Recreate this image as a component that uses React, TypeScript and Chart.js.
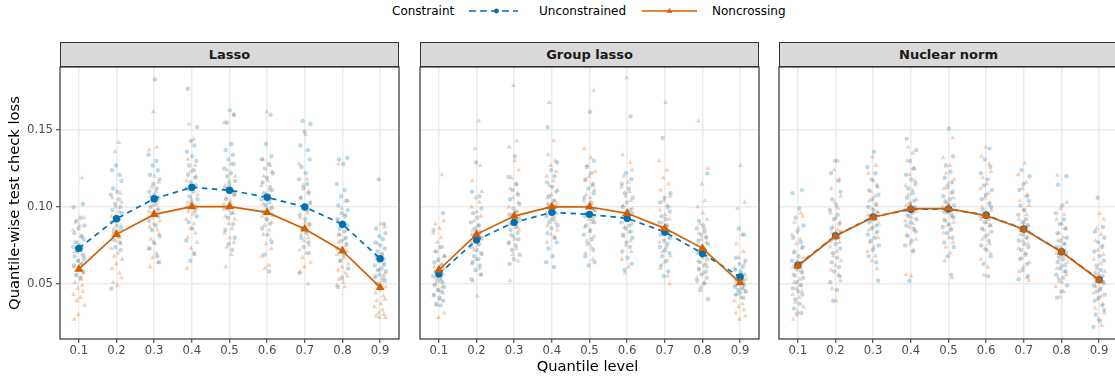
import React, { useEffect, useRef } from "react";
import { Chart, registerables } from "chart.js";

Chart.register(...registerables);

const QUANTILES = [0.1, 0.2, 0.3, 0.4, 0.5, 0.6, 0.7, 0.8, 0.9];
const Y_TICKS = [0.05, 0.1, 0.15];
const PANEL_TITLES = ["Lasso", "Group lasso", "Nuclear norm"];
const SERIES_NAMES = ["Unconstrained", "Noncrossing"];

// mean curves
const lassoUncMean = [0.0731, 0.0924, 0.1054, 0.1128, 0.1109, 0.1063, 0.1, 0.0887, 0.0664];
const lassoNcMean = [0.0596, 0.0822, 0.0952, 0.1002, 0.1002, 0.0965, 0.0857, 0.0714, 0.0477];
const groupUncMean = [0.0564, 0.0785, 0.09, 0.0965, 0.0952, 0.0926, 0.0837, 0.0698, 0.0544];
const groupNcMean = [0.059, 0.0822, 0.0941, 0.1002, 0.1, 0.0959, 0.0861, 0.0731, 0.0507];
const nuclearUncMean = [0.0622, 0.0813, 0.0936, 0.0985, 0.0987, 0.0946, 0.0857, 0.0709, 0.0527];
const nuclearNcMean = [0.0616, 0.0811, 0.0933, 0.0989, 0.0989, 0.0944, 0.0855, 0.0707, 0.0525];

// replicate-level losses (one list per quantile level)
const lassoUncPts = [
  [0.102, 0.100, 0.093, 0.091, 0.088, 0.086, 0.083, 0.081, 0.079, 0.077, 0.075, 0.074, 0.072, 0.071, 0.069, 0.068, 0.066, 0.065, 0.063, 0.062, 0.060, 0.058, 0.056, 0.054],
  [0.127, 0.124, 0.121, 0.117, 0.112, 0.110, 0.108, 0.105, 0.102, 0.100, 0.098, 0.096, 0.094, 0.092, 0.090, 0.088, 0.086, 0.084, 0.081, 0.079, 0.077, 0.074, 0.072, 0.047],
  [0.183, 0.134, 0.130, 0.127, 0.124, 0.121, 0.118, 0.115, 0.112, 0.110, 0.108, 0.106, 0.104, 0.102, 0.100, 0.098, 0.096, 0.094, 0.091, 0.088, 0.085, 0.081, 0.077, 0.073, 0.068, 0.064],
  [0.177, 0.152, 0.143, 0.140, 0.136, 0.133, 0.130, 0.127, 0.124, 0.121, 0.119, 0.116, 0.114, 0.112, 0.110, 0.107, 0.105, 0.103, 0.100, 0.097, 0.094, 0.090, 0.086, 0.078, 0.070, 0.065],
  [0.163, 0.160, 0.155, 0.141, 0.137, 0.134, 0.131, 0.128, 0.125, 0.122, 0.120, 0.117, 0.115, 0.112, 0.110, 0.108, 0.105, 0.102, 0.099, 0.096, 0.093, 0.089, 0.085, 0.080, 0.076, 0.072],
  [0.160, 0.141, 0.133, 0.131, 0.128, 0.125, 0.122, 0.119, 0.116, 0.113, 0.111, 0.109, 0.107, 0.105, 0.103, 0.101, 0.099, 0.097, 0.095, 0.092, 0.089, 0.086, 0.082, 0.077, 0.069, 0.058],
  [0.156, 0.154, 0.149, 0.140, 0.137, 0.131, 0.126, 0.122, 0.118, 0.115, 0.112, 0.109, 0.106, 0.103, 0.100, 0.098, 0.095, 0.092, 0.089, 0.086, 0.083, 0.080, 0.077, 0.074, 0.070, 0.057],
  [0.132, 0.131, 0.128, 0.115, 0.111, 0.107, 0.104, 0.101, 0.098, 0.096, 0.094, 0.092, 0.090, 0.088, 0.086, 0.084, 0.082, 0.080, 0.078, 0.076, 0.073, 0.069, 0.065, 0.060, 0.054, 0.048],
  [0.118, 0.089, 0.086, 0.083, 0.081, 0.079, 0.077, 0.075, 0.073, 0.071, 0.069, 0.068, 0.066, 0.065, 0.063, 0.062, 0.060, 0.059, 0.058, 0.056, 0.055, 0.054, 0.052, 0.050],
];
const lassoNcPts = [
  [0.119, 0.093, 0.090, 0.088, 0.085, 0.081, 0.077, 0.074, 0.071, 0.068, 0.065, 0.063, 0.061, 0.059, 0.057, 0.055, 0.053, 0.051, 0.049, 0.047, 0.045, 0.043, 0.041, 0.039, 0.036, 0.030, 0.027],
  [0.142, 0.136, 0.109, 0.106, 0.103, 0.100, 0.097, 0.094, 0.091, 0.088, 0.086, 0.084, 0.082, 0.080, 0.078, 0.076, 0.073, 0.070, 0.068, 0.066, 0.063, 0.060, 0.057, 0.054, 0.051, 0.049],
  [0.162, 0.139, 0.137, 0.120, 0.116, 0.113, 0.110, 0.107, 0.104, 0.101, 0.099, 0.097, 0.095, 0.093, 0.091, 0.089, 0.087, 0.085, 0.082, 0.079, 0.076, 0.073, 0.070, 0.067, 0.064, 0.061],
  [0.154, 0.144, 0.131, 0.127, 0.123, 0.120, 0.117, 0.114, 0.111, 0.108, 0.105, 0.103, 0.101, 0.099, 0.097, 0.095, 0.092, 0.089, 0.086, 0.083, 0.080, 0.077, 0.073, 0.069, 0.060],
  [0.160, 0.155, 0.128, 0.124, 0.120, 0.117, 0.114, 0.111, 0.108, 0.106, 0.104, 0.102, 0.100, 0.098, 0.096, 0.094, 0.092, 0.089, 0.086, 0.083, 0.080, 0.077, 0.074, 0.069, 0.061],
  [0.162, 0.131, 0.127, 0.123, 0.120, 0.117, 0.114, 0.111, 0.108, 0.105, 0.102, 0.100, 0.098, 0.096, 0.094, 0.092, 0.090, 0.088, 0.085, 0.082, 0.079, 0.076, 0.073, 0.068, 0.062, 0.060],
  [0.147, 0.128, 0.118, 0.114, 0.110, 0.106, 0.102, 0.099, 0.096, 0.093, 0.090, 0.088, 0.086, 0.084, 0.082, 0.080, 0.078, 0.075, 0.072, 0.070, 0.067, 0.064, 0.061, 0.058, 0.050],
  [0.128, 0.104, 0.099, 0.095, 0.091, 0.088, 0.085, 0.082, 0.079, 0.077, 0.075, 0.073, 0.071, 0.069, 0.067, 0.065, 0.063, 0.061, 0.059, 0.057, 0.055, 0.053, 0.051, 0.049, 0.048],
  [0.089, 0.087, 0.076, 0.070, 0.066, 0.062, 0.059, 0.056, 0.054, 0.052, 0.050, 0.048, 0.046, 0.044, 0.042, 0.040, 0.039, 0.037, 0.035, 0.033, 0.031, 0.030, 0.029, 0.028, 0.028],
];
const groupUncPts = [
  [0.096, 0.085, 0.074, 0.071, 0.068, 0.066, 0.064, 0.062, 0.060, 0.058, 0.057, 0.055, 0.054, 0.052, 0.051, 0.049, 0.048, 0.046, 0.045, 0.043, 0.041, 0.039, 0.037, 0.036],
  [0.129, 0.110, 0.107, 0.099, 0.096, 0.093, 0.090, 0.088, 0.086, 0.084, 0.082, 0.080, 0.078, 0.076, 0.074, 0.072, 0.070, 0.068, 0.066, 0.064, 0.062, 0.059, 0.056, 0.053],
  [0.133, 0.1195, 0.115, 0.111, 0.108, 0.105, 0.102, 0.099, 0.097, 0.095, 0.093, 0.091, 0.089, 0.087, 0.085, 0.083, 0.081, 0.079, 0.077, 0.075, 0.072, 0.069, 0.066, 0.063],
  [0.152, 0.129, 0.124, 0.120, 0.116, 0.113, 0.110, 0.107, 0.104, 0.102, 0.100, 0.098, 0.096, 0.094, 0.092, 0.090, 0.088, 0.086, 0.083, 0.080, 0.077, 0.073, 0.068, 0.064, 0.061],
  [0.162, 0.130, 0.126, 0.122, 0.118, 0.115, 0.112, 0.109, 0.106, 0.103, 0.100, 0.098, 0.096, 0.094, 0.092, 0.090, 0.088, 0.085, 0.082, 0.079, 0.076, 0.072, 0.068, 0.064, 0.062],
  [0.159, 0.122, 0.118, 0.115, 0.112, 0.109, 0.106, 0.103, 0.100, 0.098, 0.096, 0.094, 0.092, 0.090, 0.088, 0.086, 0.084, 0.082, 0.080, 0.077, 0.074, 0.071, 0.067, 0.063, 0.059],
  [0.145, 0.109, 0.106, 0.103, 0.100, 0.097, 0.094, 0.092, 0.090, 0.088, 0.086, 0.084, 0.082, 0.080, 0.078, 0.076, 0.074, 0.072, 0.070, 0.068, 0.065, 0.062, 0.058, 0.055],
  [0.122, 0.091, 0.088, 0.086, 0.084, 0.082, 0.080, 0.078, 0.076, 0.074, 0.072, 0.070, 0.068, 0.066, 0.064, 0.062, 0.060, 0.058, 0.056, 0.054, 0.052, 0.050, 0.046, 0.040],
  [0.086, 0.082, 0.067, 0.065, 0.063, 0.061, 0.059, 0.058, 0.056, 0.055, 0.053, 0.052, 0.051, 0.050, 0.049, 0.048, 0.047, 0.046, 0.045, 0.044, 0.043, 0.041],
];
const groupNcPts = [
  [0.121, 0.091, 0.089, 0.086, 0.083, 0.080, 0.077, 0.074, 0.071, 0.068, 0.065, 0.063, 0.061, 0.058, 0.056, 0.054, 0.052, 0.050, 0.048, 0.046, 0.044, 0.042, 0.040, 0.036, 0.031, 0.028],
  [0.156, 0.138, 0.127, 0.117, 0.110, 0.106, 0.103, 0.100, 0.097, 0.094, 0.091, 0.088, 0.085, 0.083, 0.081, 0.079, 0.077, 0.075, 0.072, 0.069, 0.066, 0.063, 0.060, 0.056, 0.052, 0.042],
  [0.179, 0.143, 0.139, 0.130, 0.124, 0.119, 0.115, 0.112, 0.109, 0.106, 0.103, 0.100, 0.097, 0.095, 0.093, 0.091, 0.089, 0.087, 0.085, 0.082, 0.079, 0.076, 0.073, 0.069, 0.065, 0.052],
  [0.168, 0.143, 0.134, 0.130, 0.127, 0.123, 0.120, 0.117, 0.114, 0.111, 0.108, 0.106, 0.104, 0.102, 0.100, 0.098, 0.096, 0.094, 0.092, 0.090, 0.088, 0.085, 0.082, 0.080, 0.077],
  [0.176, 0.138, 0.132, 0.127, 0.123, 0.120, 0.117, 0.114, 0.111, 0.108, 0.106, 0.104, 0.102, 0.100, 0.098, 0.096, 0.094, 0.092, 0.090, 0.087, 0.084, 0.081, 0.078, 0.074, 0.070, 0.066],
  [0.184, 0.134, 0.129, 0.124, 0.120, 0.116, 0.113, 0.110, 0.107, 0.104, 0.101, 0.099, 0.097, 0.095, 0.093, 0.091, 0.089, 0.087, 0.084, 0.081, 0.078, 0.075, 0.071, 0.066, 0.061, 0.057],
  [0.168, 0.130, 0.124, 0.119, 0.115, 0.111, 0.107, 0.104, 0.101, 0.098, 0.095, 0.092, 0.090, 0.088, 0.086, 0.084, 0.082, 0.080, 0.077, 0.074, 0.071, 0.068, 0.064, 0.060, 0.055, 0.050],
  [0.156, 0.125, 0.115, 0.104, 0.100, 0.096, 0.092, 0.089, 0.086, 0.083, 0.081, 0.079, 0.077, 0.075, 0.073, 0.071, 0.069, 0.067, 0.065, 0.063, 0.061, 0.059, 0.057, 0.054, 0.051, 0.048],
  [0.127, 0.103, 0.099, 0.082, 0.076, 0.071, 0.067, 0.063, 0.060, 0.057, 0.055, 0.053, 0.051, 0.049, 0.047, 0.045, 0.043, 0.041, 0.039, 0.037, 0.035, 0.033, 0.031, 0.029, 0.027],
];
const nuclearUncPts = [
  [0.111, 0.109, 0.099, 0.093, 0.088, 0.084, 0.080, 0.077, 0.074, 0.071, 0.068, 0.065, 0.063, 0.060, 0.058, 0.056, 0.054, 0.051, 0.049, 0.047, 0.045, 0.043, 0.040, 0.037, 0.034, 0.031, 0.030],
  [0.130, 0.122, 0.117, 0.110, 0.105, 0.101, 0.098, 0.095, 0.092, 0.089, 0.086, 0.084, 0.082, 0.080, 0.078, 0.076, 0.073, 0.070, 0.067, 0.064, 0.061, 0.058, 0.055, 0.051, 0.046, 0.039],
  [0.136, 0.126, 0.122, 0.118, 0.114, 0.111, 0.108, 0.105, 0.102, 0.100, 0.098, 0.096, 0.094, 0.092, 0.090, 0.088, 0.086, 0.084, 0.082, 0.080, 0.078, 0.075, 0.072, 0.068, 0.064, 0.052],
  [0.1445, 0.137, 0.130, 0.125, 0.121, 0.118, 0.115, 0.112, 0.109, 0.106, 0.104, 0.102, 0.100, 0.098, 0.096, 0.094, 0.092, 0.090, 0.088, 0.086, 0.084, 0.081, 0.078, 0.075, 0.071, 0.052],
  [0.151, 0.133, 0.127, 0.123, 0.119, 0.116, 0.113, 0.110, 0.107, 0.105, 0.103, 0.101, 0.099, 0.097, 0.095, 0.093, 0.091, 0.089, 0.087, 0.085, 0.083, 0.080, 0.077, 0.074, 0.068, 0.056],
  [0.138, 0.131, 0.126, 0.122, 0.118, 0.114, 0.111, 0.108, 0.105, 0.102, 0.100, 0.098, 0.096, 0.094, 0.092, 0.090, 0.088, 0.086, 0.084, 0.081, 0.078, 0.075, 0.072, 0.068, 0.063, 0.055],
  [0.124, 0.120, 0.115, 0.111, 0.107, 0.104, 0.101, 0.098, 0.095, 0.092, 0.090, 0.088, 0.086, 0.084, 0.082, 0.080, 0.078, 0.076, 0.074, 0.072, 0.069, 0.066, 0.063, 0.059, 0.055, 0.053],
  [0.120, 0.1145, 0.101, 0.096, 0.092, 0.089, 0.086, 0.083, 0.080, 0.078, 0.076, 0.074, 0.072, 0.070, 0.068, 0.066, 0.064, 0.062, 0.060, 0.058, 0.056, 0.054, 0.052, 0.049, 0.045, 0.041],
  [0.106, 0.087, 0.084, 0.080, 0.077, 0.074, 0.071, 0.068, 0.065, 0.062, 0.059, 0.057, 0.055, 0.053, 0.051, 0.049, 0.047, 0.045, 0.043, 0.041, 0.039, 0.036, 0.033, 0.030, 0.026, 0.022],
];
const nuclearNcPts = [
  [0.096, 0.094, 0.090, 0.086, 0.082, 0.079, 0.076, 0.073, 0.070, 0.067, 0.065, 0.063, 0.061, 0.059, 0.057, 0.055, 0.053, 0.051, 0.049, 0.047, 0.045, 0.043, 0.041, 0.038, 0.035, 0.032, 0.027],
  [0.130, 0.124, 0.118, 0.112, 0.107, 0.103, 0.099, 0.096, 0.093, 0.090, 0.087, 0.085, 0.083, 0.081, 0.079, 0.077, 0.074, 0.071, 0.068, 0.065, 0.062, 0.059, 0.056, 0.052, 0.047, 0.039],
  [0.1325, 0.127, 0.122, 0.117, 0.113, 0.110, 0.107, 0.104, 0.101, 0.099, 0.097, 0.095, 0.093, 0.091, 0.089, 0.087, 0.085, 0.083, 0.080, 0.077, 0.074, 0.071, 0.068, 0.065, 0.060],
  [0.139, 0.135, 0.130, 0.125, 0.121, 0.117, 0.114, 0.111, 0.108, 0.105, 0.103, 0.101, 0.099, 0.097, 0.095, 0.093, 0.091, 0.089, 0.087, 0.085, 0.082, 0.079, 0.076, 0.072, 0.056, 0.055],
  [0.145, 0.132, 0.127, 0.122, 0.118, 0.115, 0.112, 0.109, 0.106, 0.104, 0.102, 0.100, 0.098, 0.096, 0.094, 0.092, 0.090, 0.088, 0.086, 0.083, 0.080, 0.077, 0.074, 0.070, 0.065, 0.054],
  [0.139, 0.133, 0.128, 0.123, 0.119, 0.115, 0.112, 0.109, 0.106, 0.103, 0.100, 0.098, 0.096, 0.094, 0.092, 0.090, 0.088, 0.085, 0.082, 0.079, 0.076, 0.073, 0.070, 0.066, 0.061, 0.0555],
  [0.1286, 0.121, 0.116, 0.112, 0.108, 0.104, 0.101, 0.098, 0.095, 0.092, 0.090, 0.088, 0.086, 0.084, 0.082, 0.080, 0.078, 0.076, 0.073, 0.070, 0.067, 0.064, 0.061, 0.058, 0.054, 0.052],
  [0.1206, 0.103, 0.099, 0.095, 0.092, 0.089, 0.086, 0.083, 0.080, 0.078, 0.076, 0.074, 0.072, 0.070, 0.068, 0.066, 0.064, 0.062, 0.060, 0.058, 0.056, 0.054, 0.051, 0.048, 0.045, 0.0414],
  [0.0957, 0.092, 0.086, 0.082, 0.078, 0.075, 0.072, 0.069, 0.066, 0.063, 0.060, 0.058, 0.056, 0.054, 0.052, 0.050, 0.048, 0.046, 0.044, 0.042, 0.040, 0.037, 0.034, 0.031, 0.027, 0.023],
];

// fixed horizontal jitter pattern (quantile units)
const JITTER = [0.011, -0.014, 0.004, -0.006, 0.015, -0.001, -0.012, 0.008, 0.013, -0.009, 0.002, -0.015, 0.006, -0.004, 0.01, -0.011, 0.014, -0.002, 0.007, -0.013, 0.001, 0.012, -0.007, 0.005, -0.01, 0.009, -0.003];

const BLUE = "#0072B2";
const ORANGE = "#D55E00";
const FONT = "'DejaVu Sans', sans-serif";

function jittered(groups: number[][], shift: number) {
  const pts: { x: number; y: number }[] = [];
  groups.forEach((vals, qi) => {
    vals.forEach((v, i) => {
      pts.push({ x: QUANTILES[qi] + JITTER[(i + shift + qi * 5) % JITTER.length], y: v });
    });
  });
  return pts;
}

const PANELS = [
  { title: PANEL_TITLES[0], unc: lassoUncMean, nc: lassoNcMean, uncPts: lassoUncPts, ncPts: lassoNcPts },
  { title: PANEL_TITLES[1], unc: groupUncMean, nc: groupNcMean, uncPts: groupUncPts, ncPts: groupNcPts },
  { title: PANEL_TITLES[2], unc: nuclearUncMean, nc: nuclearNcMean, uncPts: nuclearUncPts, ncPts: nuclearNcPts },
];

const framePlugin = {
  id: "frame",
  afterDatasetsDraw(chart: any) {
    const { ctx, chartArea } = chart;
    const { left, top, right, bottom } = chartArea;
    ctx.save();
    ctx.strokeStyle = "#333333";
    ctx.lineWidth = 1.2;
    ctx.strokeRect(left, top, right - left, bottom - top);
    ctx.restore();
  },
};

function Panel({ idx, left, width }: { idx: number; left: number; width: number }) {
  const ref = useRef<HTMLCanvasElement | null>(null);
  useEffect(() => {
    const p = PANELS[idx];
    const first = idx === 0;
    const chart = new Chart(ref.current as HTMLCanvasElement, {
      type: "scatter",
      data: {
        datasets: [
          {
            label: SERIES_NAMES[1],
            data: QUANTILES.map((q, i) => ({ x: q, y: p.nc[i] })),
            showLine: true,
            borderColor: ORANGE,
            borderWidth: 1.7,
            pointStyle: "triangle",
            pointRadius: 5.2,
            pointBackgroundColor: ORANGE,
            pointBorderColor: ORANGE,
            pointBorderWidth: 0,
            order: 0,
          } as any,
          {
            label: SERIES_NAMES[0],
            data: QUANTILES.map((q, i) => ({ x: q, y: p.unc[i] })),
            showLine: true,
            borderColor: BLUE,
            borderWidth: 1.7,
            borderDash: [5.5, 4.5],
            pointStyle: "circle",
            pointRadius: 3.7,
            pointBackgroundColor: BLUE,
            pointBorderWidth: 0,
            order: 1,
          } as any,
          {
            label: SERIES_NAMES[1] + " runs",
            data: jittered(p.ncPts, 7),
            pointStyle: "triangle",
            pointRadius: 2.9,
            pointBackgroundColor: "rgba(213,94,0,0.27)",
            pointBorderWidth: 0,
            order: 2,
          } as any,
          {
            label: SERIES_NAMES[0] + " runs",
            data: jittered(p.uncPts, 0),
            pointStyle: "circle",
            pointRadius: 2.2,
            pointBackgroundColor: "rgba(0,114,178,0.27)",
            pointBorderWidth: 0,
            order: 3,
          } as any,
        ],
      },
      options: {
        animation: false,
        responsive: false,
        events: [],
        layout: { padding: { top: 10, right: 11, left: first ? 0 : 10, bottom: 0 } },
        plugins: { legend: { display: false }, tooltip: { enabled: false } },
        scales: {
          x: {
            type: "linear",
            min: 0.05,
            max: 0.95,
            afterBuildTicks: (s: any) => {
              s.ticks = QUANTILES.map((v) => ({ value: v }));
            },
            afterFit: (s: any) => {
              s.height = 28;
            },
            ticks: {
              callback: (v: any) => Number(v).toFixed(1),
              color: "#4D4D4D",
              font: { family: FONT, size: 11.7 },
              padding: 1,
              autoSkip: false,
              maxRotation: 0,
            },
            grid: { color: "#EBEBEB", lineWidth: 1.5, tickColor: "#333333", tickLength: 4, tickWidth: 1 },
            border: { display: false },
          },
          y: {
            type: "linear",
            min: 0.0141,
            max: 0.1911,
            afterBuildTicks: (s: any) => {
              s.ticks = Y_TICKS.map((v) => ({ value: v }));
            },
            afterFit: (s: any) => {
              s.width = first ? 60 : 0;
            },
            ticks: {
              display: first,
              callback: (v: any) => Number(v).toFixed(2),
              color: "#4D4D4D",
              font: { family: FONT, size: 11.7 },
              padding: 3,
            },
            grid: { color: "#EBEBEB", lineWidth: 1.5, tickColor: "#333333", tickLength: 4, tickWidth: 1, drawTicks: first },
            border: { display: false },
            title: {
              display: first,
              text: "Quantile-wise test check loss",
              color: "#000000",
              font: { family: FONT, size: 14.7 },
              padding: { top: 6.5, bottom: 0 },
            },
          },
        },
      } as any,
      plugins: [framePlugin],
    });
    return () => chart.destroy();
  }, [idx]);
  return (
    <canvas
      ref={ref}
      width={width}
      height={310}
      style={{ position: "absolute", left, top: 57, width, height: 310 }}
    />
  );
}

function Strip({ left, title }: { left: number; title: string }) {
  return (
    <div
      style={{
        position: "absolute",
        left,
        top: 42,
        width: 339,
        height: 25,
        boxSizing: "border-box",
        background: "#D9D9D9",
        border: "1.2px solid #333333",
        color: "#1A1A1A",
        fontFamily: FONT,
        fontWeight: "bold",
        fontSize: 13,
        lineHeight: "23px",
        textAlign: "center",
      }}
    >
      {title}
    </div>
  );
}

export default function App() {
  const txt: React.CSSProperties = {
    position: "absolute",
    top: 4,
    fontFamily: FONT,
    fontSize: 12,
    lineHeight: "14px",
    color: "#000",
    whiteSpace: "nowrap",
  };
  return (
    <div
      style={{
        position: "absolute",
        left: 0,
        top: 0,
        width: 1115,
        height: 377,
        overflow: "hidden",
        background: "#fff",
      }}
    >
      <div style={{ ...txt, left: 392 }}>Constraint</div>
      <svg style={{ position: "absolute", left: 466, top: 4, overflow: "visible" }} width={56} height={14}>
        <line x1={3} y1={7} x2={52} y2={7} stroke={BLUE} strokeWidth={1.6} strokeDasharray="7 4" />
        <circle cx={30.5} cy={7} r={2.4} fill={BLUE} />
      </svg>
      <div style={{ ...txt, left: 539 }}>{SERIES_NAMES[0]}</div>
      <svg style={{ position: "absolute", left: 640, top: 4, overflow: "visible" }} width={60} height={14}>
        <line x1={2} y1={7} x2={57} y2={7} stroke={ORANGE} strokeWidth={1.6} />
        <polygon points="29.5,4 32.3,8.8 26.7,8.8" fill={ORANGE} />
      </svg>
      <div style={{ ...txt, left: 712 }}>{SERIES_NAMES[1]}</div>

      <Strip left={60} title={PANEL_TITLES[0]} />
      <Strip left={420} title={PANEL_TITLES[1]} />
      <Strip left={779} title={PANEL_TITLES[2]} />

      <Panel idx={0} left={0} width={410} />
      <Panel idx={1} left={410} width={360} />
      <Panel idx={2} left={769} width={360} />

      <div
        style={{
          position: "absolute",
          left: 60,
          width: 1055,
          top: 357,
          textAlign: "center",
          fontFamily: FONT,
          fontSize: 14.7,
          lineHeight: "17px",
          color: "#000",
        }}
      >
        Quantile level
      </div>
    </div>
  );
}
